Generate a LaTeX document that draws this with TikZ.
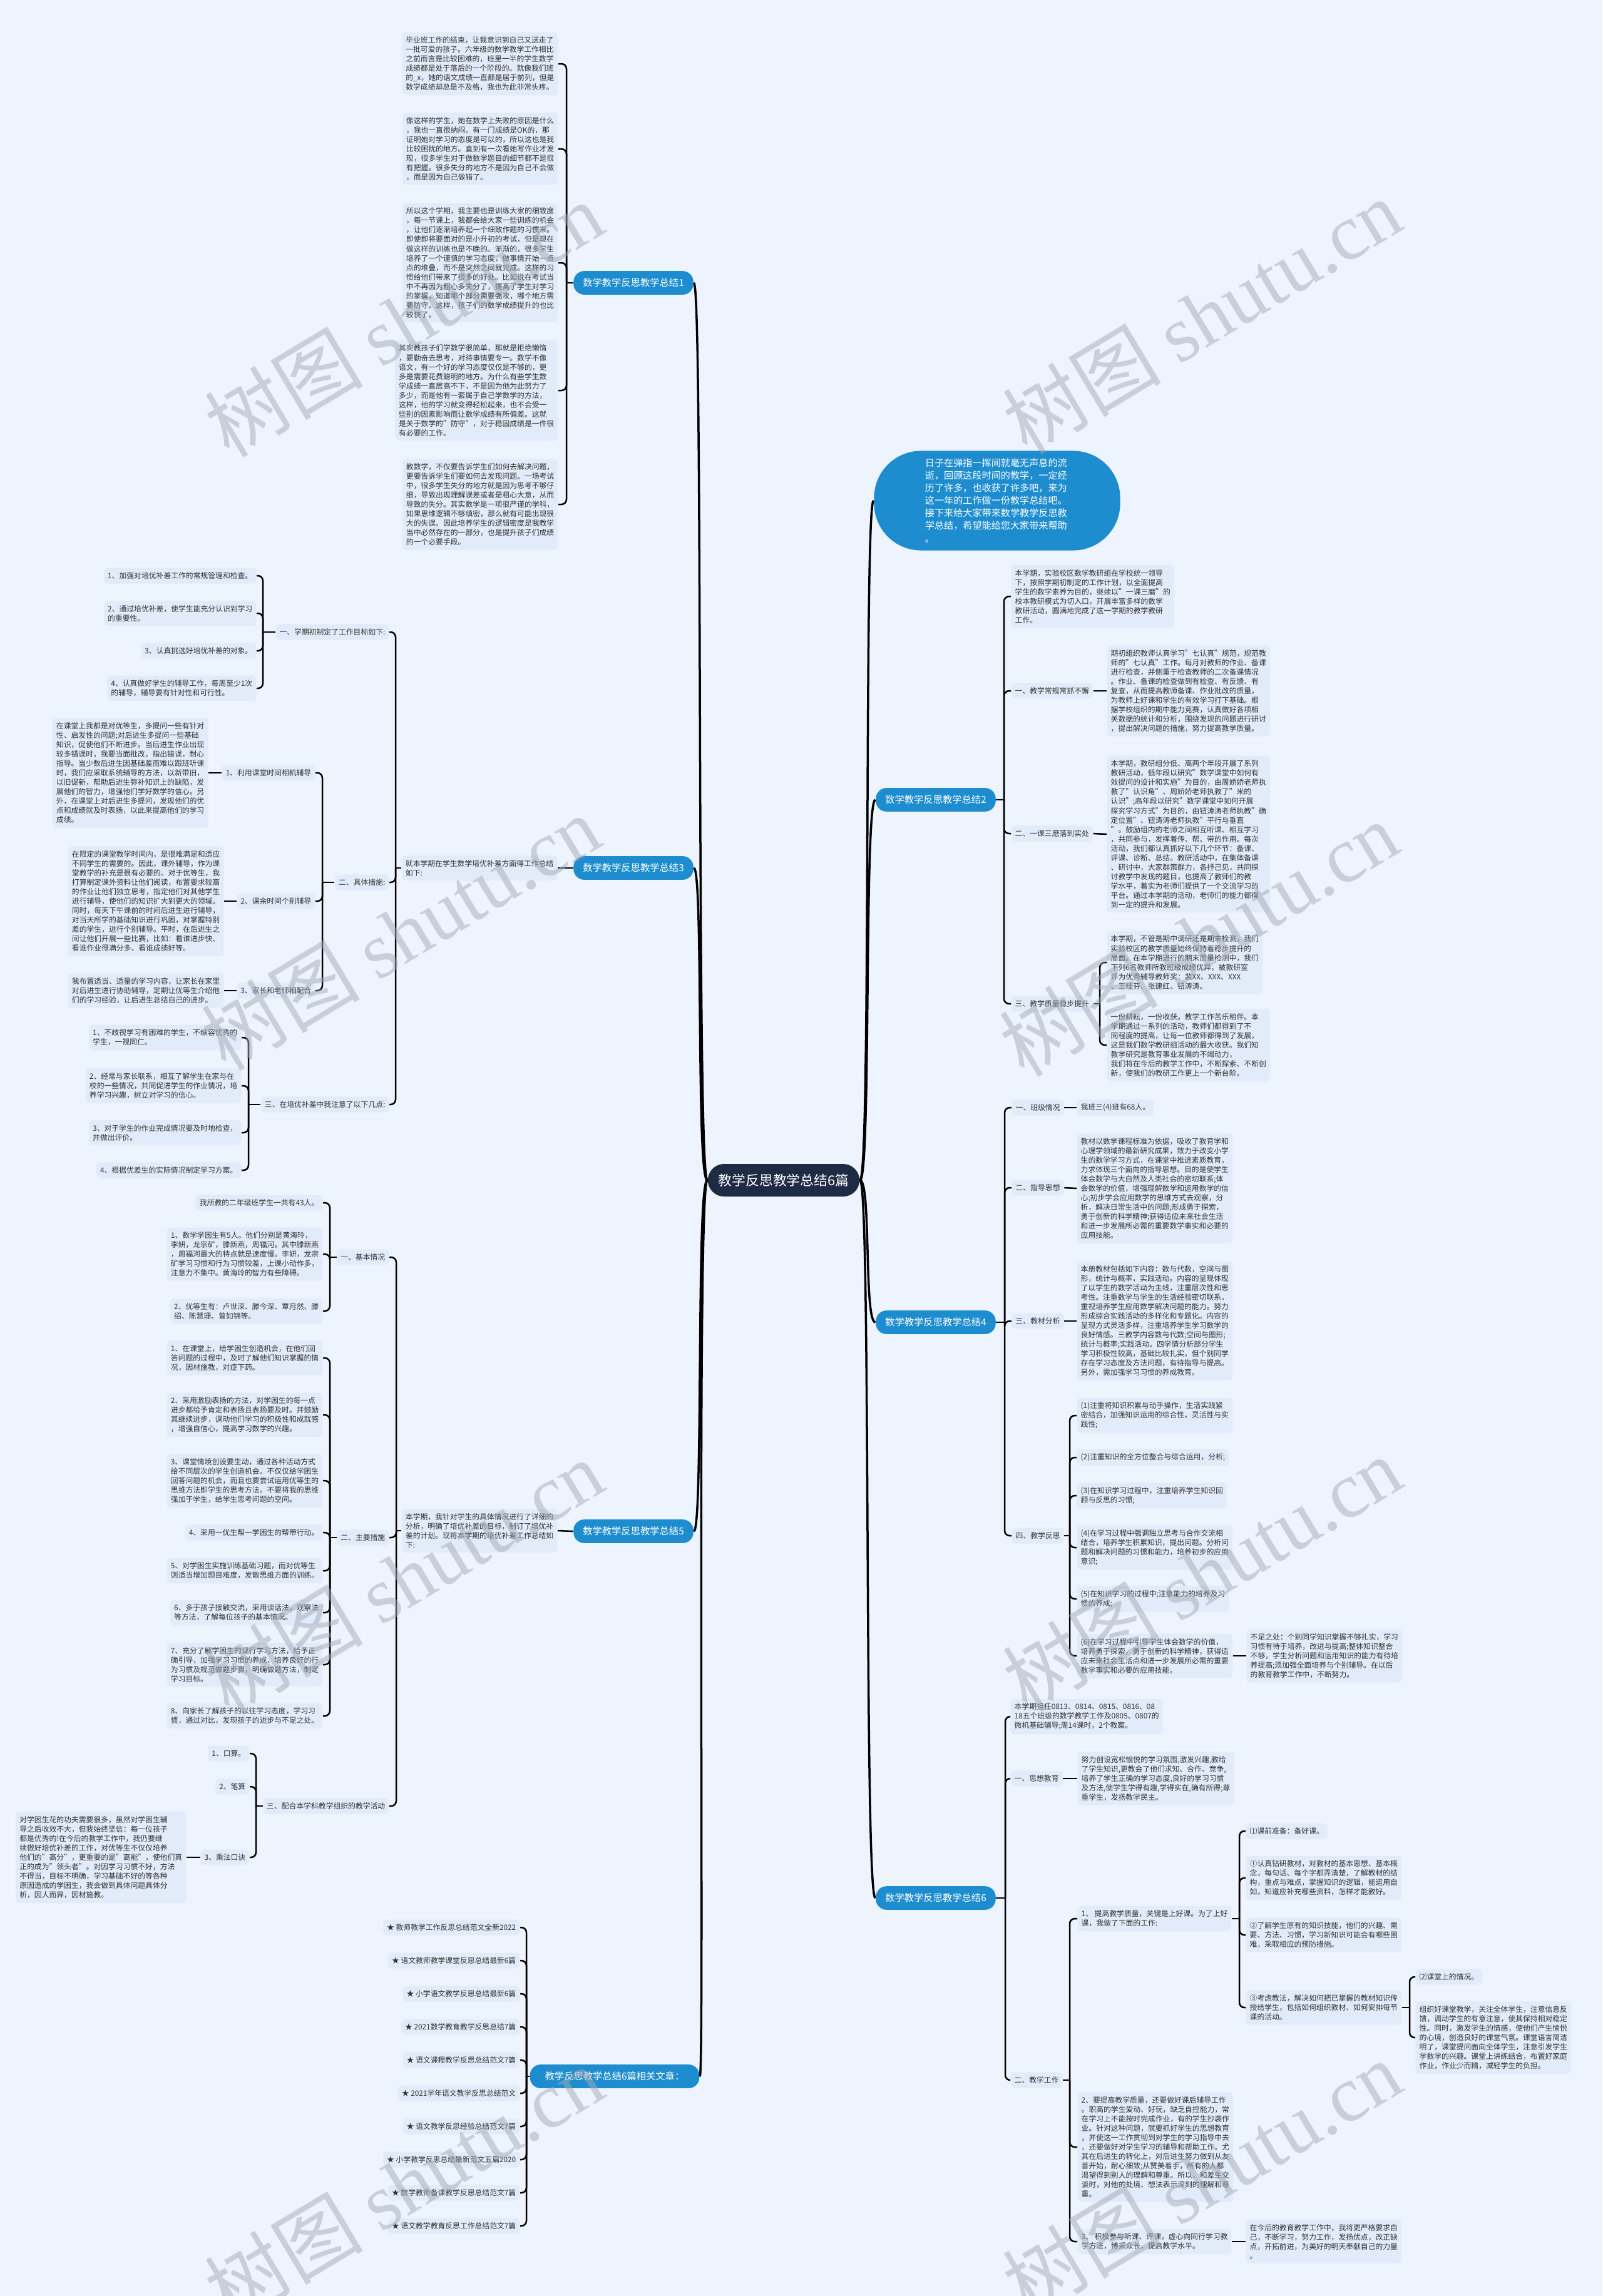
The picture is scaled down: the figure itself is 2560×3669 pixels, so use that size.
\documentclass[tikz,border=0pt]{standalone}
\usepackage{fontspec}
\setmainfont{Noto Sans CJK SC}
\newfontfamily\wmlatin{Liberation Serif}
\usepackage{tikz}
\usetikzlibrary{positioning}
\definecolor{pagebg}{HTML}{EEF4FD}
\definecolor{boxbg}{HTML}{E2EBF9}
\definecolor{txtgray}{HTML}{333333}
\definecolor{mapblue}{HTML}{1E8DCF}
\definecolor{rootnavy}{HTML}{1F2B45}
\definecolor{wmgray}{HTML}{A3AAB8}
\newcommand\txtsize{\fontsize{3.36pt}{4.27pt}\selectfont}
\newcommand\lblsize{\fontsize{4.35pt}{5.5pt}\selectfont}
\newcommand\introsize{\fontsize{4.3pt}{5.69pt}\selectfont}
\newcommand\rootsize{\fontsize{6.2pt}{7.5pt}\selectfont}
\newcommand\wmsize{\fontsize{36pt}{40pt}\selectfont}

\begin{document}
\begin{tikzpicture}[x=0.01cm, y=-0.01cm,
    leaf/.style={fill=boxbg, text=txtgray, rounded corners=0.06cm, inner xsep=0.06cm, inner ysep=0.07cm, align=left, font=\txtsize},
    branch/.style={fill=mapblue, text=white, rounded corners=0.17cm, minimum height=0.35cm, inner xsep=0.15cm, font=\lblsize},
    link/.style={line width=0.025cm, rounded corners=0.08cm},
    trunk/.style={line width=0.035cm},
    wmark/.style={text=wmgray, opacity=0.5, rotate=31, font=\wmsize}]

    \fill[pagebg] (0,0) rectangle (2560,3669);
    \useasboundingbox (0,0) rectangle (2560,3669);

    \node[fill=rootnavy, text=white, rounded corners=0.26cm, minimum height=0.52cm, inner xsep=0.17cm, font=\rootsize] (root) at (1252,1886) {教学反思教学总结6篇};

    % left side
    \node[branch] (b1) at (1012,452) {数学教学反思教学总结1};
    \node[branch] (b3) at (1012,1387) {数学教学反思教学总结3};
    \node[branch] (b5) at (1012,2447) {数学教学反思教学总结5};
    \node[branch, inner xsep=0.24cm] (rel) at (982,3318) {教学反思教学总结6篇相关文章：};

    % right side
    \node[fill=mapblue, text=white, rounded corners=0.75cm, minimum width=3.93cm, minimum height=1.59cm, text width=2.3cm, align=left, font=\introsize] (intro) at (1593,800) {日子在弹指一挥间就毫无声息的流\\逝，回顾这段时间的教学，一定经\\历了许多，也收获了许多吧，来为\\这一年的工作做一份教学总结吧。\\接下来给大家带来数学教学反思教\\学总结，希望能给您大家带来帮助\\。};
    \node[branch] (b2) at (1495,1278) {数学教学反思教学总结2};
    \node[branch] (b4) at (1495,2113) {数学教学反思教学总结4};
    \node[branch] (b6) at (1495,3033) {数学教学反思教学总结6};

    \draw[trunk] (root.east) .. controls (1392,1886) and (1380,800) .. (intro.west);
    \draw[trunk] (root.east) .. controls (1392,1886) and (1380,1278) .. (b2.west);
    \draw[trunk] (root.east) .. controls (1392,1886) and (1380,2113) .. (b4.west);
    \draw[trunk] (root.east) .. controls (1392,1886) and (1380,3033) .. (b6.west);
    \draw[trunk] (root.west) .. controls (1112,1886) and (1124,452) .. (b1.east);
    \draw[trunk] (root.west) .. controls (1112,1886) and (1124,1387) .. (b3.east);
    \draw[trunk] (root.west) .. controls (1112,1886) and (1124,2447) .. (b5.east);
    \draw[trunk] (root.west) .. controls (1112,1886) and (1126,3318) .. (rel.east);

    % branch 1
    \node[leaf, anchor=east] (b1p1) at (892,102) {毕业班工作的结束，让我意识到自己又送走了\\一批可爱的孩子。六年级的数学教学工作相比\\之前而言是比较困难的，班里一半的学生数学\\成绩都是处于落后的一个阶段的。就像我们班\\的\_x，她的语文成绩一直都是居于前列，但是\\数学成绩却总是不及格，我也为此非常头疼。};
    \node[leaf, anchor=east] (b1p2) at (892,238) {像这样的学生，她在数学上失败的原因是什么\\，我也一直很纳闷。有一门成绩是OK的，那\\证明她对学习的态度是可以的，所以这也是我\\比较困扰的地方。直到有一次看她写作业才发\\现，很多学生对于做数学题目的细节都不是很\\有把握。很多失分的地方不是因为自己不会做\\，而是因为自己做错了。};
    \node[leaf, anchor=east] (b1p3) at (892,420) {所以这个学期，我主要也是训练大家的细致度\\，每一节课上，我都会给大家一些训练的机会\\，让他们逐渐培养起一个细致作题的习惯来。\\即使即将要面对的是小升初的考试，但是现在\\做这样的训练也是不晚的。渐渐的，很多学生\\培养了一个谨慎的学习态度，做事情开始一点\\点的堆叠，而不是突然之间就完成。这样的习\\惯给他们带来了很多的好处。比如说在考试当\\中不再因为粗心多失分了，提高了学生对学习\\的掌握，知道哪个部分需要强攻，哪个地方需\\要防守。这样，孩子们的数学成绩提升的也比\\较快了。};
    \node[leaf, anchor=east] (b1p4) at (892,624) {其实教孩子们学数学很简单，那就是拒绝懒惰\\，要勤奋去思考，对待事情要专一。数学不像\\语文，有一个好的学习态度仅仅是不够的，更\\多是需要花费聪明的地方。为什么有些学生数\\学成绩一直居高不下，不是因为他为此努力了\\多少，而是他有一套属于自己学数学的方法，\\这样，他的学习就变得轻松起来，也不会受一\\些别的因素影响而让数学成绩有所偏差。这就\\是关于数学的"防守"，对于稳固成绩是一件很\\有必要的工作。};
    \node[leaf, anchor=east] (b1p5) at (892,806) {教数学，不仅要告诉学生们如何去解决问题，\\更要告诉学生们要如何去发现问题。一场考试\\中，很多学生失分的地方就是因为思考不够仔\\细，导致出现理解误差或者是粗心大意，从而\\导致的失分。其实数学是一项很严谨的学科，\\如果思维逻辑不够缜密，那么就有可能出现很\\大的失误。因此培养学生的逻辑密度是我教学\\当中必然存在的一部分，也是提升孩子们成绩\\的一个必要手段。};
    \coordinate (s1) at (905,452);
    \draw[link] (b1.west) -- (s1);
    \foreach \c in {b1p1,b1p2,b1p3,b1p4,b1p5} \draw[link] (s1) |- (\c.east);

    % branch 3
    \node[leaf, anchor=east] (b3i) at (891,1387) {就本学期在学生数学培优补差方面得工作总结\\如下:};
    \coordinate (s3) at (632,1387);
    \draw[link] (b3.west) -- (b3i.east);
    \draw[link] (b3i.west) -- (s3);
    \node[leaf, anchor=east] (b3a) at (622,1010) {一、学期初制定了工作目标如下:};
    \node[leaf, anchor=east] (b3b) at (622,1410) {二、具体措施:};
    \node[leaf, anchor=east] (b3c) at (622,1765) {三、在培优补差中我注意了以下几点:};
    \foreach \c in {b3a,b3b,b3c} \draw[link] (s3) |- (\c.east);

    \node[leaf, anchor=east] (b3a1) at (410,920) {1、加强对培优补差工作的常规管理和检查。};
    \node[leaf, anchor=east] (b3a2) at (410,980) {2、通过培优补差，使学生能充分认识到学习\\的重要性。};
    \node[leaf, anchor=east] (b3a3) at (410,1040) {3、认真挑选好培优补差的对象。};
    \node[leaf, anchor=east] (b3a4) at (410,1100) {4、认真做好学生的辅导工作，每周至少1次\\的辅导，辅导要有针对性和可行性。};
    \coordinate (s3a) at (420,1010);
    \draw[link] (b3a.west) -- (s3a);
    \foreach \c in {b3a1,b3a2,b3a3,b3a4} \draw[link] (s3a) |- (\c.east);

    \node[leaf, anchor=east] (b3b1) at (504,1235) {1、利用课堂时间相机辅导};
    \node[leaf, anchor=east] (b3b2) at (504,1440) {2、课余时间个别辅导};
    \node[leaf, anchor=east] (b3b3) at (504,1583) {3、家长和老师相配合};
    \coordinate (s3b) at (515,1410);
    \draw[link] (b3b.west) -- (s3b);
    \foreach \c in {b3b1,b3b2,b3b3} \draw[link] (s3b) |- (\c.east);
    \node[leaf, anchor=east] (b3b1p) at (333,1235) {在课堂上我都是对优等生，多提问一些有针对\\性、启发性的问题;对后进生多提问一些基础\\知识，促使他们不断进步。当后进生作业出现\\较多错误时，我要当面批改，指出错误，耐心\\指导。当少数后进生因基础差而难以跟班听课\\时，我们应采取系统辅导的方法，以新带旧，\\以旧促新，帮助后进生弥补知识上的缺陷，发\\展他们的智力，增强他们学好数学的信心。另\\外，在课堂上对后进生多提问，发现他们的优\\点和成绩就及时表扬，以此来提高他们的学习\\成绩。};
    \node[leaf, anchor=east] (b3b2p) at (358,1440) {在限定的课堂教学时间内，是很难满足和适应\\不同学生的需要的。因此，课外辅导，作为课\\堂教学的补充是很有必要的。对于优等生，我\\打算制定课外资料让他们阅读，布置要求较高\\的作业让他们独立思考，指定他们对其他学生\\进行辅导，使他们的知识扩大到更大的领域。\\同时，每天下午课前的时间后进生进行辅导，\\对当天所学的基础知识进行巩固，对掌握特别\\差的学生，进行个别辅导。平时，在后进生之\\间让他们开展一些比赛，比如：看谁进步快、\\看谁作业得满分多、看谁成绩好等。};
    \node[leaf, anchor=east] (b3b3p) at (358,1583) {我布置适当、适量的学习内容，让家长在家里\\对后进生进行协助辅导，定期让优等生介绍他\\们的学习经验，让后进生总结自己的进步。};
    \draw[link] (b3b1.west) -- (b3b1p.east);
    \draw[link] (b3b2.west) -- (b3b2p.east);
    \draw[link] (b3b3.west) -- (b3b3p.east);

    \node[leaf, anchor=east] (b3c1) at (386,1658) {1、不歧视学习有困难的学生，不纵容优秀的\\学生，一视同仁。};
    \node[leaf, anchor=east] (b3c2) at (386,1735) {2、经常与家长联系，相互了解学生在家与在\\校的一些情况，共同促进学生的作业情况，培\\养学习兴趣，树立对学习的信心。};
    \node[leaf, anchor=east] (b3c3) at (386,1810) {3、对于学生的作业完成情况要及时地检查，\\并做出评价。};
    \node[leaf, anchor=east] (b3c4) at (386,1870) {4、根据优差生的实际情况制定学习方案。};
    \coordinate (s3c) at (397,1765);
    \draw[link] (b3c.west) -- (s3c);
    \foreach \c in {b3c1,b3c2,b3c3,b3c4} \draw[link] (s3c) |- (\c.east);

    % branch 5
    \node[leaf, anchor=east] (b5i) at (891,2446) {本学期，我针对学生的具体情况进行了详细的\\分析，明确了培优补差的目标，制订了培优补\\差的计划。现将本学期的培优补差工作总结如\\下:};
    \coordinate (s5) at (633,2446);
    \draw[link] (b5.west) -- (b5i.east);
    \draw[link] (b5i.west) -- (s5);
    \node[leaf, anchor=east] (b5a) at (622,2009) {一、基本情况};
    \node[leaf, anchor=east] (b5b) at (622,2457) {二、主要措施};
    \node[leaf, anchor=east] (b5c) at (622,2886) {三、配合本学科教学组织的教学活动};
    \foreach \c in {b5a,b5b,b5c} \draw[link] (s5) |- (\c.east);

    \node[leaf, anchor=east] (b5a1) at (516,1922) {我所教的二年级班学生一共有43人。};
    \node[leaf, anchor=east] (b5a2) at (516,2004) {1、数学学困生有5人。他们分别是黄海玲，\\李妍，龙宗矿，滕新燕，周福河。其中滕新燕\\，周福河最大的特点就是速度慢。李妍，龙宗\\矿学习习惯和行为习惯较差，上课小动作多，\\注意力不集中。黄海玲的智力有些障碍。};
    \node[leaf, anchor=east] (b5a3) at (516,2095) {2、优等生有：卢世深、滕今深、覃月然、滕\\绍、陈慧珊、曾如锦等。};
    \coordinate (s5a) at (527,2009);
    \draw[link] (b5a.west) -- (s5a);
    \foreach \c in {b5a1,b5a2,b5a3} \draw[link] (s5a) |- (\c.east);

    \node[leaf, anchor=east] (b5b1) at (516,2170) {1、在课堂上，给学困生创造机会，在他们回\\答问题的过程中，及时了解他们知识掌握的情\\况，因材施教，对症下药。};
    \node[leaf, anchor=east] (b5b2) at (516,2261) {2、采用激励表扬的方法，对学困生的每一点\\进步都给予肯定和表扬且表扬要及时。并鼓励\\其继续进步，调动他们学习的积极性和成就感\\，增强自信心，提高学习数学的兴趣。};
    \node[leaf, anchor=east] (b5b3) at (516,2366) {3、课堂情境创设要生动，通过各种活动方式\\给不同层次的学生创造机会。不仅仅给学困生\\回答问题的机会，而且也要尝试运用优等生的\\思维方法即学生的思考方法。不要将我的思维\\强加于学生，给学生思考问题的空间。};
    \node[leaf, anchor=east] (b5b4) at (516,2449) {4、采用一优生帮一学困生的帮带行动。};
    \node[leaf, anchor=east] (b5b5) at (516,2510) {5、对学困生实施训练基础习题，而对优等生\\则适当增加题目难度，发散思维方面的训练。};
    \node[leaf, anchor=east] (b5b6) at (516,2577) {6、多于孩子接触交流，采用谈话法，观察法\\等方法，了解每位孩子的基本情况。};
    \node[leaf, anchor=east] (b5b7) at (516,2660) {7、充分了解学困生的现行学习方法，给予正\\确引导，加强学习习惯的养成，培养良好的行\\为习惯及规范做题步骤，明确做题方法，制定\\学习目标。};
    \node[leaf, anchor=east] (b5b8) at (516,2742) {8、向家长了解孩子的以往学习态度，学习习\\惯，通过对比，发现孩子的进步与不足之处。};
    \coordinate (s5b) at (527,2457);
    \draw[link] (b5b.west) -- (s5b);
    \foreach \c in {b5b1,b5b2,b5b3,b5b4,b5b5,b5b6,b5b7,b5b8} \draw[link] (s5b) |- (\c.east);

    \node[leaf, anchor=east] (b5c1) at (399,2802) {1、口算。};
    \node[leaf, anchor=east] (b5c2) at (399,2855) {2、笔算};
    \node[leaf, anchor=east] (b5c3) at (399,2968) {3、乘法口诀};
    \coordinate (s5c) at (409,2886);
    \draw[link] (b5c.west) -- (s5c);
    \foreach \c in {b5c1,b5c2,b5c3} \draw[link] (s5c) |- (\c.east);
    \node[leaf, anchor=east] (b5c3p) at (298,2968) {对学困生花的功夫需要很多，虽然对学困生辅\\导之后收效不大，但我始终坚信：每一位孩子\\都是优秀的!在今后的教学工作中，我仍要继\\续做好培优补差的工作，对优等生不仅仅培养\\他们的"高分"，更重要的是"高能"，使他们真\\正的成为"领头者"。对因学习习惯不好，方法\\不得当，目标不明确，学习基础不好的等各种\\原因造成的学困生，我会做到具体问题具体分\\析，因人而异，因材施教。};
    \draw[link] (b5c3.west) -- (b5c3p.east);

    % related articles
    \foreach \t [count=\i] in {教师教学工作反思总结范文全新2022, 语文教师教学课堂反思总结最新6篇, 小学语文教学反思总结最新6篇, 2021数学教育教学反思总结7篇, 语文课程教学反思总结范文7篇, 2021学年语文教学反思总结范文, 语文教学反思经验总结范文7篇, 小学教学反思总结最新范文五篇2020, 数学教师备课教学反思总结范文7篇, 语文教学教育反思工作总结范文7篇}
        \node[leaf, anchor=east] (rel\i) at (831,3027+53*\i) {★ \t};
    \coordinate (s7) at (841,3318);
    \draw[link] (rel.west) -- (s7);
    \foreach \i in {1,...,10} \draw[link] (s7) |- (rel\i.east);

    % branch 2
    \coordinate (s2) at (1604,1278);
    \draw[link] (b2.east) -- (s2);
    \node[leaf, anchor=west] (b2i) at (1615,953) {本学期，实验校区数学教研组在学校统一领导\\下，按照学期初制定的工作计划，以全面提高\\学生的数学素养为目的，继续以"一课三磨"的\\校本教研模式为切入口，开展丰富多样的数学\\教研活动，圆满地完成了这一学期的教学教研\\工作。};
    \node[leaf, anchor=west] (b2a) at (1615,1104) {一、教学常规常抓不懈};
    \node[leaf, anchor=west] (b2b) at (1615,1332) {二、一课三磨落到实处};
    \node[leaf, anchor=west] (b2c) at (1615,1604) {三、教学质量稳步提升};
    \foreach \c in {b2i,b2a,b2b,b2c} \draw[link] (s2) |- (\c.west);
    \node[leaf, anchor=west] (b2ap) at (1768,1104) {期初组织教师认真学习"七认真"规范，规范教\\师的"七认真"工作。每月对教师的作业、备课\\进行检查，并侧重于检查教师的二次备课情况\\。作业、备课的检查做到有检查、有反馈、有\\复查，从而提高教师备课、作业批改的质量，\\为教师上好课和学生的有效学习打下基础。根\\据学校组织的期中能力竞赛，认真做好各项相\\关数据的统计和分析，围绕发现的问题进行研讨\\，提出解决问题的措施，努力提高教学质量。};
    \node[leaf, anchor=west] (b2bp) at (1768,1333) {本学期，教研组分低、高两个年段开展了系列\\教研活动，低年段以研究"数学课堂中如何有\\效提问的设计和实施"为目的，由周娇娇老师执\\教了"认识角"、周娇娇老师执教了"米的\\认识";高年段以研究"数学课堂中如何开展\\探究学习方式"为目的，由钮涛涛老师执教"确\\定位置"、钮涛涛老师执教"平行与垂直\\"。鼓励组内的老师之间相互听课、相互学习\\，共同参与，发挥着传、帮、带的作用。每次\\活动，我们都认真抓好以下几个环节：备课、\\评课、诊断、总结。教研活动中，在集体备课\\、研讨中，大家群策群力，各抒己见，共同探\\讨教学中发现的题目，也提高了教师们的教\\学水平，着实为老师们提供了一个交流学习的\\平台。通过本学期的活动，老师们的能力都得\\到一定的提升和发展。};
    \draw[link] (b2a.east) -- (b2ap.west);
    \draw[link] (b2b.east) -- (b2bp.west);
    \node[leaf, anchor=west] (b2c1) at (1768,1538) {本学期，不管是期中调研还是期末检测，我们\\实验校区的教学质量始终保持着稳步提升的\\局面。在本学期进行的期末质量检测中，我们\\下列6名教师所教班级成绩优异，被教研室\\评为优秀辅导教师奖：裴XX、XXX、XXX\\、王桂芬、张建红、钮涛涛。};
    \node[leaf, anchor=west] (b2c2) at (1768,1670) {一份耕耘，一份收获。教学工作苦乐相伴。本\\学期通过一系列的活动，教师们都得到了不\\同程度的提高，让每一位教师都得到了发展，\\这是我们数学教研组活动的最大收获。我们知\\教学研究是教育事业发展的不竭动力，\\我们将在今后的教学工作中，不断探索、不断创\\新，使我们的教研工作更上一个新台阶。};
    \coordinate (s2c) at (1757,1604);
    \draw[link] (b2c.east) -- (s2c);
    \foreach \c in {b2c1,b2c2} \draw[link] (s2c) |- (\c.west);

    % branch 4
    \coordinate (s4) at (1605,2113);
    \draw[link] (b4.east) -- (s4);
    \node[leaf, anchor=west] (b4a) at (1616,1770) {一、班级情况};
    \node[leaf, anchor=west] (b4b) at (1616,1898) {二、指导思想};
    \node[leaf, anchor=west] (b4c) at (1616,2111) {三、教材分析};
    \node[leaf, anchor=west] (b4d) at (1616,2454) {四、教学反思};
    \foreach \c in {b4a,b4b,b4c,b4d} \draw[link] (s4) |- (\c.west);
    \node[leaf, anchor=west] (b4ap) at (1720,1770) {我班三(4)班有68人。};
    \node[leaf, anchor=west] (b4bp) at (1720,1899) {教材以数学课程标准为依据，吸收了教育学和\\心理学领域的最新研究成果，致力于改变小学\\生的数学学习方式，在课堂中推进素质教育，\\力求体现三个面向的指导思想。目的是使学生\\体会数学与大自然及人类社会的密切联系;体\\会数学的价值，增强理解数学和运用数学的信\\心;初步学会应用数学的思维方式去观察，分\\析，解决日常生活中的问题;形成勇于探索，\\勇于创新的科学精神;获得适应未来社会生活\\和进一步发展所必需的重要数学事实和必要的\\应用技能。};
    \node[leaf, anchor=west] (b4cp) at (1720,2111) {本册教材包括如下内容：数与代数，空间与图\\形，统计与概率，实践活动。内容的呈现体现\\了以学生的数学活动为主线，注重层次性和思\\考性。注重数学与学生的生活经验密切联系，\\重视培养学生应用数学解决问题的能力。努力\\形成综合实践活动的多样化和专题化。内容的\\呈现方式灵活多样，注重培养学生学习数学的\\良好情感。三教学内容数与代数;空间与图形;\\统计与概率;实践活动。四学情分析部分学生\\学习积极性较高，基础比较扎实，但个别同学\\存在学习态度及方法问题，有待指导与提高。\\另外，需加强学习习惯的养成教育。};
    \draw[link] (b4a.east) -- (b4ap.west);
    \draw[link] (b4b.east) -- (b4bp.west);
    \draw[link] (b4c.east) -- (b4cp.west);
    \node[leaf, anchor=west] (b4d1) at (1720,2262) {(1)注重将知识积累与动手操作，生活实践紧\\密结合，加强知识运用的综合性，灵活性与实\\践性;};
    \node[leaf, anchor=west] (b4d2) at (1720,2329) {(2)注重知识的全方位整合与综合运用，分析;};
    \node[leaf, anchor=west] (b4d3) at (1720,2390) {(3)在知识学习过程中，注重培养学生知识回\\顾与反思的习惯;};
    \node[leaf, anchor=west] (b4d4) at (1720,2473) {(4)在学习过程中强调独立思考与合作交流相\\结合，培养学生积累知识，提出问题。分析问\\题和解决问题的习惯和能力，培养初步的应用\\意识;};
    \node[leaf, anchor=west] (b4d5) at (1720,2555) {(5)在知识学习的过程中;注意能力的培养及习\\惯的养成;};
    \node[leaf, anchor=west] (b4d6) at (1720,2646) {(6)在学习过程中引导学生体会数学的价值，\\培养勇于探索，勇于创新的科学精神，获得适\\应未来社会生活点和进一步发展所必需的重要\\数学事实和必要的应用技能。};
    \coordinate (s4d) at (1709,2454);
    \draw[link] (b4d.east) -- (s4d);
    \foreach \c in {b4d1,b4d2,b4d3,b4d4,b4d5,b4d6} \draw[link] (s4d) |- (\c.west);
    \node[leaf, anchor=west] (b4d6p) at (1991,2646) {不足之处：个别同学知识掌握不够扎实，学习\\习惯有待于培养，改进与提高;整体知识整合\\不够，学生分析问题和运用知识的能力有待培\\养提高;须加强全面培养与个别辅导。在以后\\的教育教学工作中，不断努力。};
    \draw[link] (b4d6.east) -- (b4d6p.west);

    % branch 6
    \coordinate (s6) at (1606,3033);
    \draw[link] (b6.east) -- (s6);
    \node[leaf, anchor=west] (b6i) at (1614,2743) {本学期担任0813、0814、0815、0816、08\\18五个班级的数学教学工作及0805、0807的\\微机基础辅导;周14课时，2个教案。};
    \node[leaf, anchor=west] (b6a) at (1614,2842) {一、思想教育};
    \node[leaf, anchor=west] (b6b) at (1614,3324) {二、教学工作};
    \foreach \c in {b6i,b6a,b6b} \draw[link] (s6) |- (\c.west);
    \node[leaf, anchor=west] (b6ap) at (1721,2842) {努力创设宽松愉悦的学习氛围,激发兴趣,教给\\了学生知识,更教会了他们求知、合作、竞争,\\培养了学生正确的学习态度,良好的学习习惯\\及方法,使学生学得有趣,学得实在,确有所得;尊\\重学生，发扬教学民主。};
    \draw[link] (b6a.east) -- (b6ap.west);
    \node[leaf, anchor=west] (b6b1) at (1721,3066) {1、 提高教学质量，关键是上好课。为了上好\\课，我做了下面的工作:};
    \node[leaf, anchor=west] (b6b2) at (1721,3431) {2、要提高教学质量，还要做好课后辅导工作\\。职高的学生爱动、好玩，缺乏自控能力，常\\在学习上不能按时完成作业，有的学生抄袭作\\业。针对这种问题，就要抓好学生的思想教育\\，并使这一工作贯彻到对学生的学习指导中去\\，还要做好对学生学习的辅导和帮助工作。尤\\其在后进生的转化上，对后进生努力做到从友\\善开始，耐心细致;从赞美着手，所有的人都\\渴望得到别人的理解和尊重。所以，和差生交\\谈时，对他的处境、想法表示深刻的理解和尊\\重。};
    \node[leaf, anchor=west] (b6b3) at (1721,3582) {3、 积极参与听课、评课，虚心向同行学习教\\学方法，博采众长，提高教学水平。};
    \coordinate (s6b) at (1709,3324);
    \draw[link] (b6b.east) -- (s6b);
    \foreach \c in {b6b1,b6b2,b6b3} \draw[link] (s6b) |- (\c.west);
    \node[leaf, anchor=west] (b6b1a) at (1990,2926) {⑴课前准备：备好课。};
    \node[leaf, anchor=west] (b6b1b) at (1990,3001) {①认真钻研教材，对教材的基本思想、基本概\\念，每句话、每个字都弄清楚，了解教材的结\\构，重点与难点，掌握知识的逻辑，能运用自\\如，知道应补充哪些资料，怎样才能教好。};
    \node[leaf, anchor=west] (b6b1c) at (1990,3092) {②了解学生原有的知识技能，他们的兴趣、需\\要、方法、习惯，学习新知识可能会有哪些困\\难，采取相应的预防措施。};
    \node[leaf, anchor=west] (b6b1d) at (1990,3208) {③考虑教法，解决如何把已掌握的教材知识传\\授给学生，包括如何组织教材、如何安排每节\\课的活动。};
    \coordinate (s6b1) at (1980,3066);
    \draw[link] (b6b1.east) -- (s6b1);
    \foreach \c in {b6b1a,b6b1b,b6b1c,b6b1d} \draw[link] (s6b1) |- (\c.west);
    \node[leaf, anchor=west] (b6b1d1) at (2261,3159) {⑵课堂上的情况。};
    \node[leaf, anchor=west] (b6b1d2) at (2261,3256) {组织好课堂教学，关注全体学生，注意信息反\\馈，调动学生的有意注意，使其保持相对稳定\\性。同时，激发学生的情感，使他们产生愉悦\\的心境，创造良好的课堂气氛。课堂语言简洁\\明了，课堂提问面向全体学生，注意引发学生\\学数学的兴趣。课堂上讲练结合，布置好家庭\\作业，作业少而精，减轻学生的负担。};
    \coordinate (s6b1d) at (2252,3208);
    \draw[link] (b6b1d.east) -- (s6b1d);
    \foreach \c in {b6b1d1,b6b1d2} \draw[link] (s6b1d) |- (\c.west);
    \node[leaf, anchor=west] (b6b3p) at (1990,3582) {在今后的教育教学工作中，我将更严格要求自\\己，不断学习，努力工作，发扬优点，改正缺\\点，开拓前进，为美好的明天奉献自己的力量\\。};
    \draw[link] (b6b3.east) -- (b6b3p.west);

    % watermark
    \foreach \wx/\wy [count=\k] in {645/510, 1920/505, 640/1490, 1915/1500, 645/2520, 1920/2515, 645/3490, 1920/3480}
        \node[wmark] (wm\k) at (\wx,\wy) {树图 {\wmlatin shutu.cn}};
\end{tikzpicture}
\end{document}
